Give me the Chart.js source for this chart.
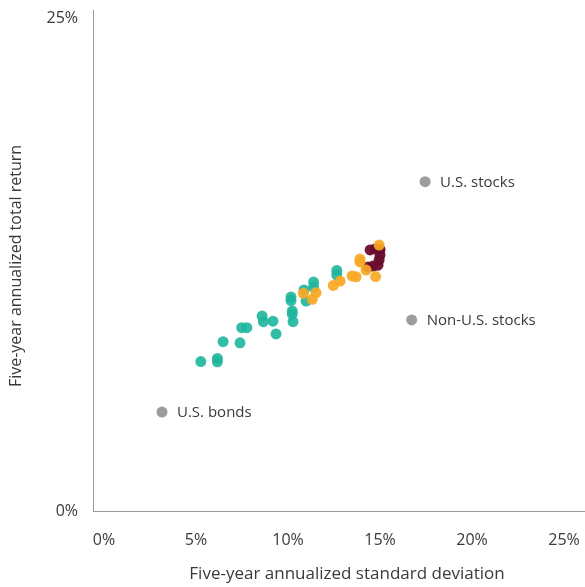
<!DOCTYPE html>
<html>
<head>
<meta charset="utf-8">
<script src="https://cdn.jsdelivr.net/npm/chart.js@4.4.1/dist/chart.umd.min.js"></script>
<style>
  body { margin: 0; background: #fff; }
  #chart { display: block; }
</style>
</head>
<body>
<canvas id="chart" width="585" height="587"></canvas>
<script>
// Tick values for both axes (percent)
const xTicks = [0, 5, 10, 15, 20, 25];
const yTicks = [0, 25];

// Fund clusters: risk (x) vs return (y)
const tealX = [5.26, 6.16, 6.16, 6.47, 7.39, 7.48, 7.76, 8.59, 8.66, 9.18, 9.35, 10.16, 10.16,
  10.23, 10.23, 10.27, 10.87, 10.98, 11.39, 11.39, 12.65, 12.65];
const tealY = [7.58, 7.74, 7.57, 8.59, 8.53, 9.30, 9.30, 9.89, 9.60, 9.63, 8.98, 10.85, 10.67,
  10.14, 9.99, 9.60, 11.21, 10.65, 11.61, 11.36, 12.20, 11.97];

const orangeX = [10.83, 11.52, 11.32, 12.46, 12.83, 13.48, 13.70, 13.91, 13.91, 14.24, 14.76, 14.95];
const orangeY = [11.04, 11.07, 10.74, 11.44, 11.66, 11.92, 11.88, 12.78, 12.63, 12.22, 11.89, 13.49];

const maroonX = [14.46, 14.73, 15.00, 15.00, 14.95, 14.89, 14.62, 14.35];
const maroonY = [13.24, 13.29, 13.26, 12.98, 12.73, 12.47, 12.42, 12.37];

// Benchmark asset classes
const benchNames = ["U.S. bonds", "U.S. stocks", "Non-U.S. stocks"];
const benchX = [3.15, 17.45, 16.72];
const benchY = [5.02, 16.70, 9.69];

const xTitle = "Five-year annualized standard deviation";
const yTitle = "Five-year annualized total return";

const toPoints = (xs, ys) => xs.map((x, i) => ({ x: x, y: ys[i] }));

const textColor = "#3a3a3a";
const fontFamily = "'Open Sans', sans-serif";

// Labels next to the grey benchmark dots + the two axis titles
const chartText = {
  id: "chartText",
  afterDatasetsDraw(chart) {
    const meta = chart.getDatasetMeta(3);
    const c = chart.ctx;
    c.save();
    c.font = "15px " + fontFamily;
    c.fillStyle = textColor;
    c.textAlign = "left";
    c.textBaseline = "middle";
    meta.data.forEach((pt, i) => {
      c.fillText(benchNames[i], pt.x + 15, pt.y + 1);
    });

    c.textAlign = "center";
    c.font = "17px " + fontFamily;
    c.fillText(xTitle, 347, 574);

    c.translate(16, 266);
    c.rotate(-Math.PI / 2);
    c.font = "16px " + fontFamily;
    c.fillText(yTitle, 0, 0);
    c.restore();
  },
};

// keep the plot area exactly where the reference has it
function noPad(scale) {
  scale.paddingLeft = 0;
  scale.paddingRight = 0;
  scale.paddingTop = 0;
  scale.paddingBottom = 0;
}

new Chart(document.getElementById("chart"), {
  type: "scatter",
  data: {
    datasets: [
      {
        label: "Orange",
        data: toPoints(orangeX, orangeY),
        backgroundColor: "rgba(248, 168, 35, 0.92)",
        pointRadius: 5.5,
        borderWidth: 0,
      },
      {
        label: "Teal",
        data: toPoints(tealX, tealY),
        backgroundColor: "rgba(30, 182, 156, 0.9)",
        pointRadius: 5.5,
        borderWidth: 0,
      },
      {
        label: "Maroon",
        data: toPoints(maroonX, maroonY),
        backgroundColor: "rgba(106, 13, 46, 0.95)",
        pointRadius: 5.5,
        borderWidth: 0,
      },
      {
        label: "Benchmarks",
        data: toPoints(benchX, benchY),
        backgroundColor: "#9c9c9c",
        pointRadius: 5.5,
        borderWidth: 0,
      },
    ],
  },
  options: {
    responsive: false,
    animation: false,
    layout: { autoPadding: false, padding: { top: 10, right: 0, left: 0, bottom: 0 } },
    plugins: {
      legend: { display: false },
      tooltip: { enabled: false },
    },
    scales: {
      x: {
        type: "linear",
        min: -0.6,
        max: 26.14,
        afterBuildTicks: (scale) => {
          scale.ticks = xTicks.map((v) => ({ value: v }));
        },
        afterFit: (scale) => {
          scale.height = 76;
          noPad(scale);
        },
        grid: { display: false, drawTicks: false },
        border: { display: true, color: "#9a9a9a", width: 1 },
        ticks: {
          padding: 20,
          color: textColor,
          font: { family: fontFamily, size: 16 },
          callback: (v) => v + "%",
        },
      },
      y: {
        type: "linear",
        min: 0,
        max: 25.41,
        afterBuildTicks: (scale) => {
          scale.ticks = yTicks.map((v) => ({ value: v }));
        },
        afterFit: (scale) => {
          scale.width = 93;
          noPad(scale);
        },
        grid: { display: false, drawTicks: false },
        border: { display: true, color: "#9a9a9a", width: 1 },
        ticks: {
          padding: 15,
          color: textColor,
          font: { family: fontFamily, size: 16 },
          callback: (v) => v + "%",
        },
      },
    },
  },
  plugins: [chartText],
});
</script>
</body>
</html>
